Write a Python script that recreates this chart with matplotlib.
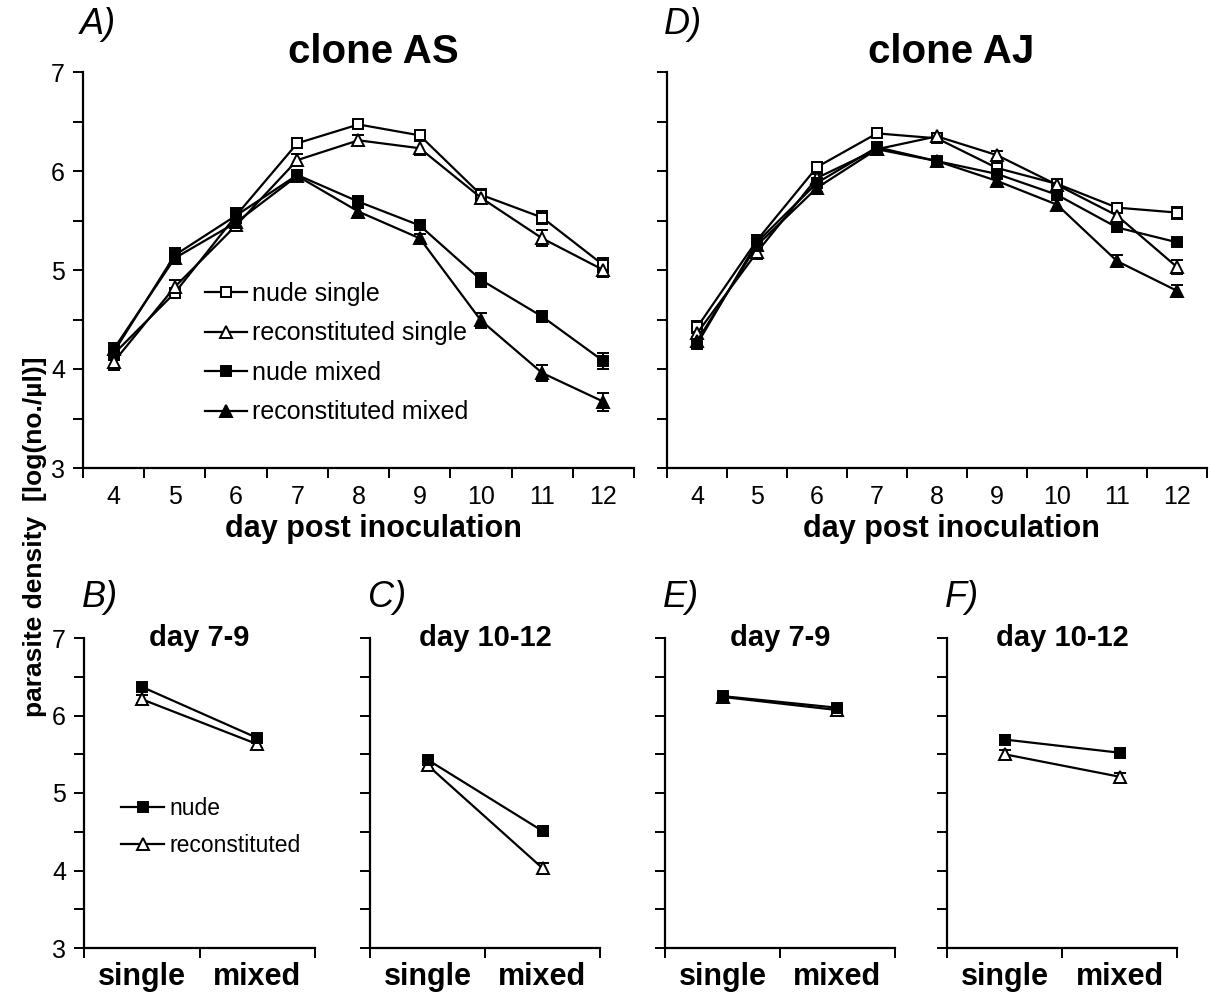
import numpy as np
import matplotlib
matplotlib.use("Agg")
import matplotlib.pyplot as plt
from matplotlib.lines import Line2D

plt.rcParams['font.family'] = ['Liberation Sans', 'DejaVu Sans']

W, H = 1211, 998

# ---- data ----
days = [4, 5, 6, 7, 8, 9, 10, 11, 12]

# clone AS (panel A)
as_nude_single = [4.15, 4.77, 5.55, 6.28, 6.47, 6.36, 5.76, 5.53, 5.05]
as_recon_single = [4.07, 4.83, 5.45, 6.11, 6.31, 6.23, 5.73, 5.32, 5.00]
as_nude_mixed = [4.17, 5.15, 5.55, 5.96, 5.69, 5.45, 4.90, 4.53, 4.08]
as_recon_mixed = [4.20, 5.12, 5.48, 5.95, 5.59, 5.32, 4.49, 3.96, 3.67]
as_nude_single_se = [0.06, 0.05, 0.07, 0.05, 0.04, 0.04, 0.06, 0.07, 0.07]
as_recon_single_se = [0.08, 0.07, 0.05, 0.06, 0.05, 0.07, 0.05, 0.08, 0.07]
as_nude_mixed_se = [0.07, 0.07, 0.08, 0.05, 0.06, 0.05, 0.07, 0.06, 0.08]
as_recon_mixed_se = [0.06, 0.05, 0.05, 0.04, 0.04, 0.04, 0.08, 0.08, 0.09]

# clone AJ (panel D)
aj_nude_single = [4.42, 5.30, 6.04, 6.38, 6.33, 6.03, 5.87, 5.63, 5.58]
aj_recon_single = [4.36, 5.18, 5.93, 6.22, 6.35, 6.16, 5.86, 5.55, 5.03]
aj_nude_mixed = [4.25, 5.28, 5.88, 6.24, 6.10, 5.97, 5.76, 5.43, 5.28]
aj_recon_mixed = [4.28, 5.25, 5.83, 6.22, 6.10, 5.90, 5.66, 5.09, 4.79]
aj_nude_single_se = [0.06, 0.05, 0.05, 0.03, 0.03, 0.04, 0.04, 0.05, 0.06]
aj_recon_single_se = [0.05, 0.07, 0.05, 0.03, 0.03, 0.04, 0.05, 0.05, 0.07]
aj_nude_mixed_se = [0.04, 0.07, 0.09, 0.04, 0.04, 0.04, 0.05, 0.05, 0.03]
aj_recon_mixed_se = [0.04, 0.05, 0.06, 0.04, 0.03, 0.04, 0.05, 0.06, 0.06]

# summary panels (single, mixed)
groups = ['single', 'mixed']
b_nude = [6.37, 5.71]
b_recon = [6.21, 5.63]
c_nude = [5.43, 4.51]
c_recon = [5.36, 4.03]
e_nude = [6.25, 6.10]
e_recon = [6.24, 6.07]
f_nude = [5.69, 5.52]
f_recon = [5.50, 5.21]
b_nude_se = [0.05, 0.05]
b_recon_se = [0.05, 0.05]
c_nude_se = [0.05, 0.07]
c_recon_se = [0.05, 0.07]
e_nude_se = [0.04, 0.04]
e_recon_se = [0.04, 0.04]
f_nude_se = [0.06, 0.05]
f_recon_se = [0.05, 0.05]

fig = plt.figure(figsize=(W / 100, H / 100), dpi=100)


def px_axes(left, right, top, bottom):
    return fig.add_axes([left / W, 1 - bottom / H, (right - left) / W, (bottom - top) / H])


def style_axes(ax, xmin, xmax, show_ylabels):
    ax.set_ylim(3, 7)
    ax.set_xlim(xmin, xmax)
    for s in ['top', 'right']:
        ax.spines[s].set_visible(False)
    for s in ['left', 'bottom']:
        ax.spines[s].set_linewidth(1.6)
    ax.set_yticks([3, 4, 5, 6, 7])
    ax.set_yticks([3.5, 4.5, 5.5, 6.5], minor=True)
    ax.tick_params(axis='y', which='both', direction='out', length=7, width=1.4,
                   labelsize=18, pad=6, labelleft=show_ylabels)
    ax.tick_params(axis='x', which='major', length=0)
    ax.tick_params(axis='x', which='minor', direction='out', length=7, width=1.4)


styles = {
    'nude single': dict(marker='s', mfc='white', mec='black', ms=7),
    'reconstituted single': dict(marker='^', mfc='white', mec='black', ms=8),
    'nude mixed': dict(marker='s', mfc='black', mec='black', ms=7),
    'reconstituted mixed': dict(marker='^', mfc='black', mec='black', ms=8),
}


def draw(ax, x, y, err, st):
    ax.errorbar(x, y, yerr=err, color='black', lw=1.6, capsize=4.5, capthick=1.6,
                elinewidth=1.4, mew=1.4, clip_on=False, **st)


# ---- panels A and D ----
for (l, r), series, title, letter in [
        ((83, 634), [(as_nude_single, as_nude_single_se), (as_recon_single, as_recon_single_se),
                     (as_nude_mixed, as_nude_mixed_se), (as_recon_mixed, as_recon_mixed_se)],
         'clone AS', 'A)'),
        ((667, 1207), [(aj_nude_single, aj_nude_single_se), (aj_recon_single, aj_recon_single_se),
                       (aj_nude_mixed, aj_nude_mixed_se), (aj_recon_mixed, aj_recon_mixed_se)],
         'clone AJ', 'D)')]:
    ax = px_axes(l, r, 72, 468)
    style_axes(ax, 3.5, 12.5, letter == 'A)')
    ax.set_xticks(days)
    ax.set_xticks(np.arange(3.5, 13, 1), minor=True)
    ax.tick_params(axis='x', which='major', labelsize=18, pad=12)
    for (vals, se), key in zip(series, styles):
        draw(ax, days, vals, se, styles[key])
    ax.set_xlabel('day post inoculation', fontsize=22, fontweight='bold', labelpad=2)
    ax.xaxis.set_label_coords(0.527, -0.115)
    ax.text(0.527, 1.05, title, transform=ax.transAxes, fontsize=29, fontweight='bold',
            ha='center', va='center')
    ax.text(-0.005, 1.12, letter, transform=ax.transAxes, fontsize=26, style='italic',
            ha='left', va='center')
    if letter == 'A)':
        handles = [Line2D([], [], color='black', lw=1.6, mew=1.4, **styles[k]) for k in styles]
        ax.legend(handles, list(styles), loc='center left', frameon=False, fontsize=18,
                  bbox_to_anchor=(192 / W, 1 - 353 / H), bbox_transform=fig.transFigure,
                  handlelength=1.7, handletextpad=0.2, labelspacing=0.62, borderpad=0)

# ---- panels B, C, E, F ----
for (l, r), nude, nude_se, recon, recon_se, title, letter in [
        ((84, 315), b_nude, b_nude_se, b_recon, b_recon_se, 'day 7-9', 'B)'),
        ((370, 600), c_nude, c_nude_se, c_recon, c_recon_se, 'day 10-12', 'C)'),
        ((665, 895), e_nude, e_nude_se, e_recon, e_recon_se, 'day 7-9', 'E)'),
        ((947, 1177), f_nude, f_nude_se, f_recon, f_recon_se, 'day 10-12', 'F)')]:
    ax = px_axes(l, r, 638, 948)
    style_axes(ax, 0, 2, letter == 'B)')
    xs = [0.5, 1.5]
    ax.set_xticks(xs)
    ax.set_xticklabels(groups)
    ax.set_xticks([0, 1, 2], minor=True)
    ax.tick_params(axis='x', which='major', labelsize=22, pad=10)
    for lab in ax.get_xticklabels():
        lab.set_fontweight('bold')
    draw(ax, xs, recon, recon_se, styles['reconstituted single'])
    draw(ax, xs, nude, nude_se, styles['nude mixed'])
    ax.text(0.5, 1.0, title, transform=ax.transAxes, fontsize=21, fontweight='bold',
            ha='center', va='center')
    ax.text(-0.01, 1.13, letter, transform=ax.transAxes, fontsize=26, style='italic',
            ha='left', va='center')
    if letter == 'B)':
        handles = [Line2D([], [], color='black', lw=1.6, mew=1.4, **styles['nude mixed']),
                   Line2D([], [], color='black', lw=1.6, mew=1.4, **styles['reconstituted single'])]
        ax.legend(handles, ['nude', 'reconstituted'], loc='center left', frameon=False,
                  fontsize=16.5, bbox_to_anchor=(110 / W, 1 - 827 / H),
                  bbox_transform=fig.transFigure, handlelength=1.85, handletextpad=0.25,
                  labelspacing=0.65, borderpad=0)

fig.text(35 / W, 1 - 537 / H, 'parasite density  [log(no./µl)]', rotation=90,
         fontsize=19, fontweight='bold', ha='center', va='center')

fig.savefig('out.png', dpi=100)
